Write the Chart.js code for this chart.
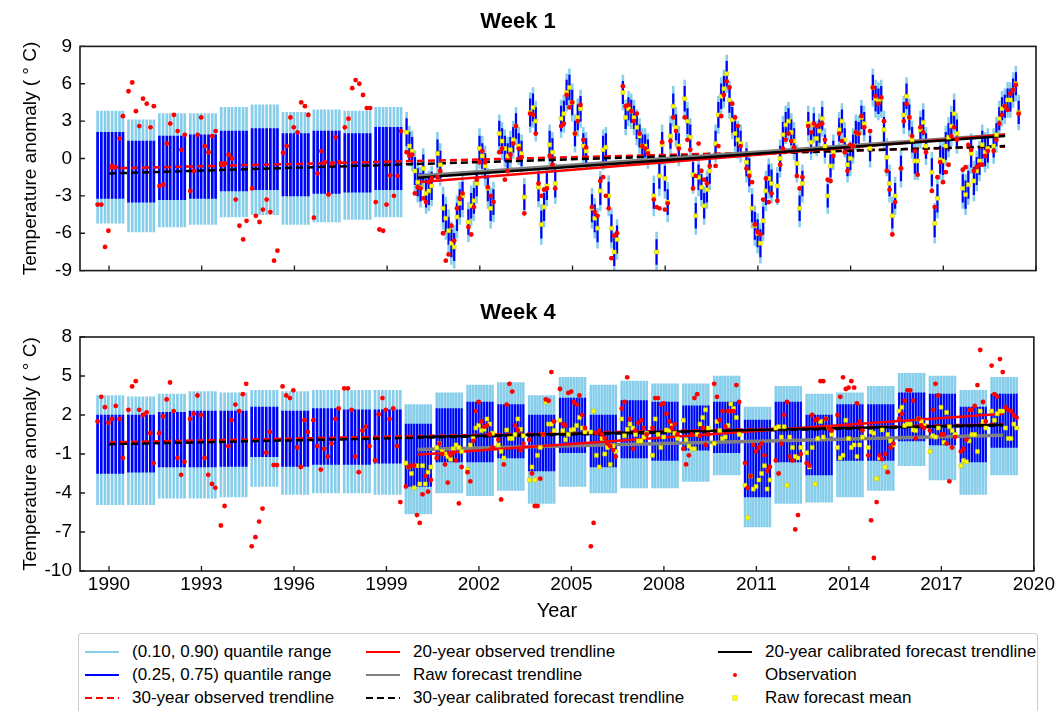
<!DOCTYPE html>
<html>
<head>
<meta charset="utf-8">
<script src="https://cdn.jsdelivr.net/npm/chart.js@4.4.1/dist/chart.umd.min.js"></script>
<style>
  body { margin: 0; background: #fff; width: 1057px; height: 711px; overflow: hidden; position: relative;
         font-family: 'Liberation Sans', Arial, sans-serif; }
  canvas { position: absolute; left: 0; }
  #week1 { top: 0; }
  #week4 { top: 290px; }
  #legend { position: absolute; left: 78px; top: 633px; width: 960px; height: 100px; box-sizing: border-box;
            border: 1px solid #cccccc; border-radius: 3px; background: #fff; }
  .lbl { position: absolute; font-size: 17px; line-height: 20px; color: #000; white-space: nowrap; }
  .sw { position: absolute; }
</style>
</head>
<body>
<canvas id="week1" width="1057" height="290"></canvas>
<canvas id="week4" width="1057" height="340"></canvas>
<div id="legend"></div>
<script>
// winters: 1990-1999 hindcasts, 2000-2019 forecasts
const years90 = [1990, 1991, 1992, 1993, 1994, 1995, 1996, 1997, 1998, 1999];
const years00 = [2000, 2001, 2002, 2003, 2004, 2005, 2006, 2007, 2008, 2009,
                 2010, 2011, 2012, 2013, 2014, 2015, 2016, 2017, 2018, 2019];
// forecast dates inside a winter, as fraction of a year around Jan 1
const weekOffs90 = [-0.37, -0.25, -0.13, -0.02, 0.10, 0.22, 0.34, 0.45];
const weekOffs00 = [-0.37, -0.28, -0.19, -0.10, -0.01, 0.08, 0.17, 0.26, 0.35, 0.44];

const xTicks = [1990, 1993, 1996, 1999, 2002, 2005, 2008, 2011, 2014, 2017, 2020];
const w1Ticks = [-9, -6, -3, 0, 3, 6, 9];
const w4Ticks = [-10, -7, -4, -1, 2, 5, 8];

// ---------- Week 1 ----------
// hindcast quantiles per winter
const w1Q90_90 = [3.8, 3.1, 3.6, 3.6, 4.1, 4.3, 3.7, 3.9, 3.8, 4.1];
const w1Q75_90 = [2.1, 1.4, 1.8, 1.9, 2.2, 2.4, 2.0, 2.2, 2.0, 2.5];
const w1Q25_90 = [-3.2, -3.5, -3.3, -3.2, -2.6, -2.5, -3.0, -2.8, -2.7, -2.5];
const w1Q10_90 = [-5.2, -5.9, -5.5, -5.3, -4.7, -4.5, -5.3, -5.1, -4.9, -4.7];
const w1Obs90 = [
  -3.7, -3.7, -7.1, -5.8, -0.6, -0.7, 1.6, 3.4,
  5.4, 6.1, 3.8, 2.6, 4.8, 4.4, 2.5, 4.2,
  -2.2, -2.1, 1.2, 2.8, 3.5, 2.2, 0.7, 1.9,
  -2.6, -1.0, 1.9, 3.3, 1.0, 0.5, 1.8, 2.2,
  -0.4, -0.4, 0.3, 0.0, -3.3, -5.4, -6.5, -5.0,
  -2.4, -4.6, -5.1, -4.1, -3.3, -4.3, -8.2, -7.4,
  0.45, 1.0, 3.3, 2.5, 2.1, 4.5, 4.2, 3.5,
  -4.75, -1.2, 0.6, -0.3, -2.9, -0.4, 1.7, -0.3,
  2.5, 3.2, 5.65, 6.3, 6.0, 5.1, 4.05, 4.05,
  -3.5, -5.7, -5.8, -3.7, -1.35, -3.0, -1.4, 2.2
];
const w1Mean00 = [
  2.1, 1.0, 0.6, -1.0, -1.9, -2.3, -0.8, -2.8, -2.6, -2.2,
  0.4, -0.5, -4.0, -4.8, -5.8, -6.8, -7.1, -4.7, -3.6, -3.0,
  -5.1, -3.8, -3.4, -2.0, 0.8, 0.2, -0.6, -2.4, -4.0, -3.5,
  2.0, 1.4, 0.8, 0.2, 0.7, 1.5, 2.6, 1.0, 0.4, -3.1,
  3.7, 4.1, 3.0, -2.3, -5.3, -3.9, -2.2, 1.1, 0.5, -2.0,
  3.2, 3.6, 5.3, 5.7, 4.5, 2.0, 3.3, 4.0, 1.0, 0.6,
  -4.0, -4.8, -5.6, -2.6, 0.7, 0.9, -3.0, -5.6, -7.5, -6.5,
  5.3, 3.3, 4.0, 3.8, 3.3, 2.5, 1.8, 1.0, 1.0, 0.6,
  -3.0, -7.5, -1.4, 1.1, -1.6, -3.5, 1.8, 4.2, 2.5, 1.0,
  4.8, 3.0, 1.7, -1.3, -4.6, -1.5, -2.3, -3.8, -2.5, -1.0,
  1.2, 3.5, 5.0, 5.6, 6.8, 4.7, 3.1, 2.0, 1.5, 1.2,
  -0.3, -1.1, -4.0, -5.4, -6.0, -6.8, -5.0, -2.6, -1.6, -2.0,
  -2.2, 0.0, 1.9, 2.7, 3.0, 2.1, 1.4, -0.4, -4.0, -2.0,
  2.8, 1.3, 2.7, 1.6, 2.2, 3.2, 1.0, -3.0, -0.6, 0.5,
  2.3, 3.0, 1.5, -0.5, 0.0, 1.0, 2.1, 2.0, 3.3, 2.8,
  0.8, 5.7, 4.8, 4.6, 4.8, 2.3, 0.1, -2.0, -4.6, -3.0,
  -0.8, 3.5, 5.0, 3.3, 1.5, -0.2, -0.2, 2.3, 2.9, 1.0,
  -1.1, -5.2, -3.2, -0.1, -0.2, 1.0, 1.7, 2.6, 3.6, 2.0,
  -2.4, -2.9, -2.1, 0.4, -1.8, -1.0, -0.2, 1.1, 0.5, 0.8,
  1.0, 1.9, 3.2, 4.0, 4.2, 4.7, 4.7, 5.5, 6.0, 3.7
];
const w1Obs00 = [
  0.5, 0.2, 0.3, -2.8, -2.3, -2.4, -3.2, -3.5, -1.9, -1.6,
  -1.5, -1.0, -6.0, -8.2, -7.7, -5.4, -6.6, -4.0, -3.2, -2.8,
  -5.5, -6.1, -3.9, -1.7, -0.3, 0.6, -0.3, -2.3, -3.0, -3.5,
  0.5, 0.8, -1.7, -1.0, 0.3, 1.2, 2.6, 0.8, 0.1, -4.4,
  3.6, 3.5, 2.0, -2.0, -3.0, -2.5, -2.4, 0.2, -0.5, -2.4,
  2.6, 2.8, 5.1, 4.1, 4.5, 2.0, 3.0, 4.3, 1.5, 0.9,
  -3.9, -4.3, -4.6, -1.8, -1.5, -3.0, -4.0, -8.0, -6.2, -6.0,
  5.8, 4.2, 4.3, 3.8, 3.0, 3.6, 2.0, 1.0, 0.8, 0.4,
  -3.3, -3.9, -4.0, 1.3, -4.1, -3.6, 1.4, 3.3, 2.2, 0.8,
  3.3, 1.5, 0.7, -2.4, -1.4, 1.2, -1.0, -1.7, -2.0, -0.6,
  -0.6, 1.0, 3.4, 5.1, 6.2, 5.7, 4.4, 3.3, 2.6, 1.0,
  -0.8, -1.4, -1.9, -5.3, -5.9, -6.1, -3.3, -1.6, -3.5, -2.8,
  -3.4, -0.5, 0.8, 1.5, 2.0, 1.4, 0.9, -1.4, -2.4, -1.5,
  2.6, 2.1, 2.8, 2.6, 2.7, 2.8, 1.5, -1.7, -1.8, 0.2,
  2.0, 1.4, 0.5, -1.0, 1.1, 1.0, 2.1, 2.0, 3.4, 2.5,
  2.2, 5.7, 5.0, 4.4, 4.9, 3.0, -1.0, -2.5, -6.1, -3.5,
  -0.8, 3.0, 4.4, 3.3, 1.8, 0.6, -1.3, 2.5, 2.1, 0.5,
  -2.6, -3.9, -1.5, -0.3, -1.9, -1.1, -0.5, 1.8, 2.5, 1.5,
  -0.9, -0.7, 1.1, 0.7, -1.0, -0.7, -0.5, -0.5, 0.2, 0.6,
  0.6, 1.5, 2.8, 3.5, 4.2, 3.9, 5.2, 5.5, 5.9, 3.6
];
// half width of the calibrated ranges per winter (week 1 forecasts)
const w1Half90 = [1.6, 1.7, 1.6, 1.5, 1.6, 1.5, 1.6, 1.4, 1.6, 1.5, 1.5, 1.6, 1.5, 1.4, 1.4, 1.5, 1.5, 1.6, 1.6, 1.4];
const w1Half50 = [1.1, 1.1, 1.0, 1.0, 1.1, 1.0, 1.1, 0.9, 1.0, 1.0, 1.0, 1.1, 1.0, 0.9, 0.9, 1.0, 1.0, 1.1, 1.1, 0.9];

// ---------- Week 4 ----------
const w4Q90_90 = [3.5, 3.4, 3.6, 3.8, 3.7, 3.9, 3.8, 3.9, 3.9, 3.9];
const w4Q75_90 = [2.0, 2.0, 2.2, 2.3, 2.3, 2.6, 2.3, 2.5, 2.4, 2.4];
const w4Q25_90 = [-2.5, -2.4, -2.0, -2.0, -1.95, -1.2, -1.95, -1.8, -1.8, -1.7];
const w4Q10_90 = [-4.9, -4.9, -4.4, -4.4, -4.3, -3.5, -4.1, -4.0, -4.0, -4.1];
const w4Obs90 = [
  1.5, 3.4, 2.6, 1.4, 1.7, 2.7, 1.7, -1.3,
  2.4, 4.2, 4.6, 2.4, 2.0, 2.2, 0.6, -1.7,
  0.6, 1.9, 3.2, 4.5, 2.3, -1.3, -2.6, -1.6,
  1.7, 2.1, 3.5, 2.0, -1.3, -2.6, -3.3, -3.6,
  -6.5, -5.0, -0.4, 1.6, 2.8, 2.3, 3.6, 4.4,
  -8.1, -7.4, -6.2, -5.2, -0.9, 0.7, -1.85, -1.85,
  4.2, 3.5, 3.3, 3.9, -0.5, -2.0, 1.6, 0.7,
  1.6, -0.4, -2.2, -0.6, -1.2, -0.2, 1.7, 2.5,
  4.05, 4.05, 2.4, -1.2, -2.4, 0.8, 1.1, -0.4,
  -1.5, 2.05, 3.3, 2.4, 1.7, 2.5, -0.4, -4.7
];
const w4Q90_00 = [2.8, 3.7, 4.3, 4.5, 3.5, 4.9, 4.3, 4.6, 4.4, 4.4, 5.0, 2.6, 4.2, 3.6, 3.7, 4.2, 5.2, 5.0, 3.9, 4.9];
const w4Q75_00 = [1.3, 2.5, 3.0, 2.8, 2.0, 3.3, 2.0, 3.1, 3.0, 2.7, 3.0, 1.6, 3.0, 2.0, 2.8, 2.8, 3.7, 3.6, 2.6, 3.6];
const w4Q25_00 = [-3.5, -1.6, -1.6, -1.3, -2.3, -0.9, -2.0, -1.3, -1.5, -0.7, -0.9, -4.3, -1.6, -2.6, -1.5, -1.5, 0.0, -0.3, -1.6, -0.5];
const w4Q10_00 = [-5.6, -4.0, -4.2, -3.8, -4.8, -3.5, -4.0, -3.6, -3.6, -3.1, -2.6, -6.6, -4.8, -4.7, -4.3, -3.8, -1.9, -3.0, -4.1, -2.6];
const w4Mean00 = [
  -1.7, -2.0, -2.5, -3.6, -1.9, -3.3, -1.9, -3.3, -2.4, -2.0,
  -0.5, -0.2, -0.8, -1.0, -1.2, -1.4, -0.6, -0.3, -0.5, -0.8,
  -2.2, -0.3, 0.2, 1.0, 1.2, 0.8, 0.9, 1.7, 1.3, 0.6,
  -0.3, -0.8, -1.3, 0.85, 0.2, 0.2, 0.5, 1.7, 0.9, 0.4,
  -3.0, -2.0, -3.0, -1.1, -0.5, 0.5, 3.0, 1.3, 1.3, 0.8,
  1.6, 0.8, 0.1, 0.5, 0.85, 0.9, 1.2, 1.8, 1.0, 0.7,
  0.7, 2.3, -1.1, -2.0, 0.2, -1.0, -0.5, -1.8, -0.4, -0.8,
  1.7, 0.4, 0.9, 1.3, 1.0, 0.5, 0.0, 0.0, 0.3, 0.6,
  -1.1, 1.7, 0.5, -0.5, 0.3, 0.85, 0.8, 1.2, 0.6, 0.2,
  1.6, 0.1, -0.4, -0.6, -0.6, 0.5, 1.3, 1.8, 2.4, 1.0,
  -0.2, 1.5, 0.8, 0.2, 0.3, 1.2, 2.85, 2.5, 1.8, 0.5,
  -3.4, -5.9, -2.7, -3.7, -3.5, -3.0, -2.5, -1.9, -3.7, -3.0,
  1.0, 1.1, 0.3, 1.1, -3.4, 0.3, -0.5, -1.2, -1.3, -0.5,
  -0.9, -2.0, -0.5, -3.3, 0.2, 1.5, 0.3, 1.7, 1.0, 0.5,
  -0.5, -1.3, -1.1, 1.6, 0.2, -0.5, -0.3, -1.2, -0.3, 0.3,
  -0.5, 0.7, 0.6, -2.9, -1.3, 0.85, -2.0, 0.5, 0.0, -0.3,
  2.3, 2.6, 1.2, 1.3, 1.3, 0.85, 0.8, 1.7, 1.5, 1.2,
  -0.8, 0.4, 0.3, 1.0, 2.6, -0.1, 2.2, 1.1, 0.8, 0.5,
  -1.9, -1.5, -1.6, 0.0, 0.5, 0.5, -0.8, 2.3, 1.5, 1.0,
  2.3, 1.6, 2.1, 2.3, 2.3, 1.0, 0.2, 0.2, 1.3, 1.0
];
const w4Obs00 = [
  -3.5, -2.0, -1.9, -1.9, -5.7, -6.3, -4.1, -2.7, -3.9, -3.0,
  -1.3, -0.2, -1.0, -1.8, -3.2, -1.1, -0.9, -1.5, -4.8, -2.0,
  -2.4, -3.1, 0.0, 2.3, 3.0, 1.5, 1.1, 1.2, 0.5, -0.5,
  0.1, -4.5, -1.8, 2.8, 4.4, 3.8, 1.2, 0.85, -0.7, -0.2,
  0.1, -2.5, -5.0, -5.0, -2.9, 0.5, 3.2, 3.1, 5.3, 1.5,
  4.0, 1.3, 1.2, 3.7, 3.8, 3.0, 2.8, 3.5, 2.0, 1.0,
  -8.1, -6.3, 0.6, 0.8, 0.5, 0.2, -0.2, -0.4, -0.7, -1.2,
  2.5, 3.0, 4.9, 1.7, -0.6, 0.8, 1.4, 1.6, 1.0, 0.5,
  1.0, 3.3, 3.3, 2.8, 2.9, 2.1, 1.5, 1.0, 1.3, 0.5,
  -0.6, -1.8, -1.1, 0.5, 3.3, 3.6, 0.4, 1.0, -0.3, 0.5,
  4.4, 3.4, 1.6, 2.3, 1.1, 2.3, 2.3, 2.3, 4.3, 3.0,
  -1.7, -3.6, -2.7, -0.3, -0.8, -0.5, -0.2, -1.1, -2.3, -2.0,
  -1.5, -2.5, -0.2, 2.0, 3.0, -1.2, -1.5, -6.8, -5.7, -1.0,
  -1.7, -1.9, 2.0, 1.6, 1.7, 4.6, 4.6, 1.7, 1.0, 0.8,
  2.0, 3.4, 4.9, 4.0, 4.1, 4.6, 4.1, 2.9, 1.5, 0.8,
  -1.1, -6.1, -9.0, -4.7, -1.1, -1.4, -1.0, -2.4, -0.5, -0.2,
  1.7, 2.1, 3.1, 3.9, 3.9, 3.1, 0.2, 1.7, 1.2, 1.0,
  0.8, 2.4, 4.4, 3.5, 0.5, 0.5, -0.2, -3.1, -0.5, 0.3,
  -0.8, -0.6, 0.1, 2.4, 2.4, 2.7, 4.3, 7.0, 3.0, 1.5,
  5.8, 3.6, 3.4, 6.3, 5.3, 2.6, 2.4, 2.3, 2.0, 1.8
];

// trendlines (end points)
const trendYears30 = [1990, 2019];
const trendYears20 = [2000, 2019];
const w1TrendObs30 = [-0.8, 0.95];
const w1TrendCal30 = [-1.2, 1.0];
const w1TrendObs20 = [-1.9, 1.9];
const w1TrendCal20 = [-1.55, 1.8];
const w1TrendRaw20 = [-1.4, 1.9];
const w4TrendObs30 = [-0.1, 1.3];
const w4TrendCal30 = [-0.25, 1.2];
const w4TrendObs20 = [-1.05, 2.1];
const w4TrendCal20 = [0.3, 1.25];
const w4TrendRaw20 = [-0.65, 0.45];

Chart.defaults.font.family = "'Liberation Sans', Arial, sans-serif";
Chart.defaults.color = '#000';

function dates(years, offs) {
  const xs = [];
  years.forEach(y => offs.forEach(o => xs.push(y + o)));
  return xs;
}
const x90 = dates(years90, weekOffs90);
const x00 = dates(years00, weekOffs00);

function seasonBars(xs, n, lo, hi) {
  return xs.map((x, i) => ({x: x, y: [lo[Math.floor(i / n)], hi[Math.floor(i / n)]]}));
}
function spreadBars(xs, n, mid, half) {
  return xs.map((x, i) => ({x: x, y: [mid[i] - half[Math.floor(i / n)], mid[i] + half[Math.floor(i / n)]]}));
}
function points(xs, vals) {
  return xs.map((x, i) => ({x: x, y: vals[i]}));
}

const frameTicks = {
  id: 'frameTicks',
  afterDatasetsDraw(chart, args, opts) {
    const {ctx, chartArea: a, scales} = chart;
    ctx.save();
    ctx.strokeStyle = '#1a1a1a';
    ctx.lineWidth = 1.3;
    ctx.beginPath();
    opts.yTicks.forEach(v => {
      const y = scales.y.getPixelForValue(v);
      ctx.moveTo(a.left, y); ctx.lineTo(a.left + 5, y);
    });
    opts.xTicks.forEach(v => {
      const x = scales.x.getPixelForValue(v);
      ctx.moveTo(x, a.bottom); ctx.lineTo(x, a.bottom - 5);
    });
    ctx.stroke();
    ctx.lineWidth = 1.6;
    ctx.strokeRect(a.left, a.top, a.right - a.left, a.bottom - a.top);
    ctx.restore();
  }
};

function makePanel(id, p) {
  const light = '#87ceeb', dark = '#0000ff';
  const bar = (data, color, thick, order) => ({
    type: 'bar', data, backgroundColor: color, borderWidth: 0, grouped: false,
    barPercentage: 1, categoryPercentage: 1, maxBarThickness: thick, order
  });
  const line = (xs, ys, color, width, dash, order) => ({
    type: 'line', data: points(xs, ys), borderColor: color, borderWidth: width,
    borderDash: dash, pointRadius: 0, fill: false, tension: 0, order
  });
  const datasets = [
    bar(p.light90, light, 2.0, 20),
    bar(p.light00, light, 1.9, 19),
    bar(p.dark90, dark, 2.0, 18),
    bar(p.dark00, dark, 1.5, 17),
    line(trendYears30, p.obs30, '#ff0000', 2.5, [7, 4], 8),
    line(trendYears30, p.cal30, '#000000', 2.5, [7, 4], 7),
    line(trendYears20, p.raw20, '#808080', 3.5, [], 6),
    line(trendYears20, p.obs20, '#ff0000', 2.5, [], 5),
    line(trendYears20, p.cal20, '#000000', 2.5, [], 4),
    {type: 'scatter', data: points(x00, p.mean00), pointStyle: 'rect', pointRadius: 2.8,
     backgroundColor: '#ffff00', borderColor: '#c8c800', borderWidth: 0.6, order: 1},
    {type: 'scatter', data: points(x90, p.obs90).concat(points(x00, p.obs00)), pointStyle: 'circle',
     pointRadius: 2.4, backgroundColor: '#ff0000', borderWidth: 0, order: 0}
  ];
  return new Chart(document.getElementById(id), {
    type: 'bar',
    data: {datasets},
    options: {
      responsive: false,
      animation: false,
      layout: {padding: {left: 0, right: 21, top: 0, bottom: p.padBottom}},
      plugins: {
        legend: {display: false},
        tooltip: {enabled: false},
        title: {display: true, text: p.title, font: {size: 22, weight: 'bold'}, color: '#000',
                padding: {top: p.titleTop, bottom: p.titleBottom}},
        frameTicks: {xTicks: xTicks, yTicks: p.yTicks}
      },
      scales: {
        x: {
          type: 'linear', min: 1989.06, max: 2020, offset: false,
          afterBuildTicks: s => { s.ticks = xTicks.map(v => ({value: v})); },
          afterFit: s => { s.height = p.xHeight; },
          grid: {display: false, drawTicks: false},
          border: {display: false},
          ticks: {display: p.showX, font: {size: 19}, color: '#000', padding: 2,
                  maxRotation: 0, autoSkip: false, callback: v => String(v)},
          title: {display: p.showX, text: 'Year', font: {size: 20}, color: '#000', padding: 0}
        },
        y: {
          min: p.yTicks[0], max: p.yTicks[p.yTicks.length - 1],
          afterBuildTicks: s => { s.ticks = p.yTicks.map(v => ({value: v})); },
          afterFit: s => { s.width = 80; },
          grid: {display: false, drawTicks: false},
          border: {display: false},
          ticks: {font: {size: 19}, color: '#000', padding: 8, callback: v => String(v)},
          title: {display: true, text: 'Temperature anomaly ( \u00b0 C)', font: {size: 19}, color: '#000',
                  padding: {top: 19, bottom: 0}}
        }
      }
    },
    plugins: [frameTicks]
  });
}

makePanel('week1', {
  title: 'Week 1', titleTop: 9, titleBottom: 11, padBottom: 11, xHeight: 0, showX: false,
  yTicks: w1Ticks,
  light90: seasonBars(x90, 8, w1Q10_90, w1Q90_90),
  dark90: seasonBars(x90, 8, w1Q25_90, w1Q75_90),
  light00: spreadBars(x00, 10, w1Mean00, w1Half90),
  dark00: spreadBars(x00, 10, w1Mean00, w1Half50),
  obs90: w1Obs90, obs00: w1Obs00, mean00: w1Mean00,
  obs30: w1TrendObs30, cal30: w1TrendCal30, obs20: w1TrendObs20, cal20: w1TrendCal20, raw20: w1TrendRaw20
});

makePanel('week4', {
  title: 'Week 4', titleTop: 10, titleBottom: 10.6, padBottom: 7, xHeight: 52, showX: true,
  yTicks: w4Ticks,
  light90: seasonBars(x90, 8, w4Q10_90, w4Q90_90),
  dark90: seasonBars(x90, 8, w4Q25_90, w4Q75_90),
  light00: seasonBars(x00, 10, w4Q10_00, w4Q90_00),
  dark00: seasonBars(x00, 10, w4Q25_00, w4Q75_00),
  obs90: w4Obs90, obs00: w4Obs00, mean00: w4Mean00,
  obs30: w4TrendObs30, cal30: w4TrendCal30, obs20: w4TrendObs20, cal20: w4TrendCal20, raw20: w4TrendRaw20
});

// legend (3 columns x 3 rows)
const legendItems = [
  {label: '(0.10, 0.90) quantile range', kind: 'line', color: '#87ceeb'},
  {label: '(0.25, 0.75) quantile range', kind: 'line', color: '#0000ff'},
  {label: '30-year observed trendline', kind: 'dash', color: '#ff0000'},
  {label: '20-year observed trendline', kind: 'line', color: '#ff0000'},
  {label: 'Raw forecast trendline', kind: 'line', color: '#808080'},
  {label: '30-year calibrated forecast trendline', kind: 'dash', color: '#000000'},
  {label: '20-year calibrated forecast trendline', kind: 'line', color: '#000000'},
  {label: 'Observation', kind: 'dot', color: '#ff0000'},
  {label: 'Raw forecast mean', kind: 'square', color: '#ffff00'}
];
const legend = document.getElementById('legend');
const colLeft = [6, 287, 639];
legendItems.forEach((it, i) => {
  const col = Math.floor(i / 3), row = i % 3;
  const cy = 18 + row * 23;
  const hx = colLeft[col];
  const sw = document.createElement('div');
  sw.className = 'sw';
  if (it.kind === 'line' || it.kind === 'dash') {
    Object.assign(sw.style, {left: hx + 'px', top: (cy - 1.25) + 'px', width: '34px', height: '2.5px',
      background: it.kind === 'line' ? it.color :
        'repeating-linear-gradient(to right, ' + it.color + ' 0 7px, transparent 7px 11px)'});
  } else if (it.kind === 'dot') {
    Object.assign(sw.style, {left: (hx + 15) + 'px', top: (cy - 2) + 'px', width: '4px', height: '4px',
      borderRadius: '50%', background: it.color});
  } else {
    Object.assign(sw.style, {left: (hx + 15) + 'px', top: (cy - 2) + 'px', width: '4px', height: '4px',
      background: it.color, boxShadow: '0 0 0 0.5px #c8c800'});
  }
  legend.appendChild(sw);
  const t = document.createElement('div');
  t.className = 'lbl';
  t.textContent = it.label;
  t.style.left = (hx + 47) + 'px';
  t.style.top = (cy - 10) + 'px';
  legend.appendChild(t);
});
</script>
</body>
</html>
